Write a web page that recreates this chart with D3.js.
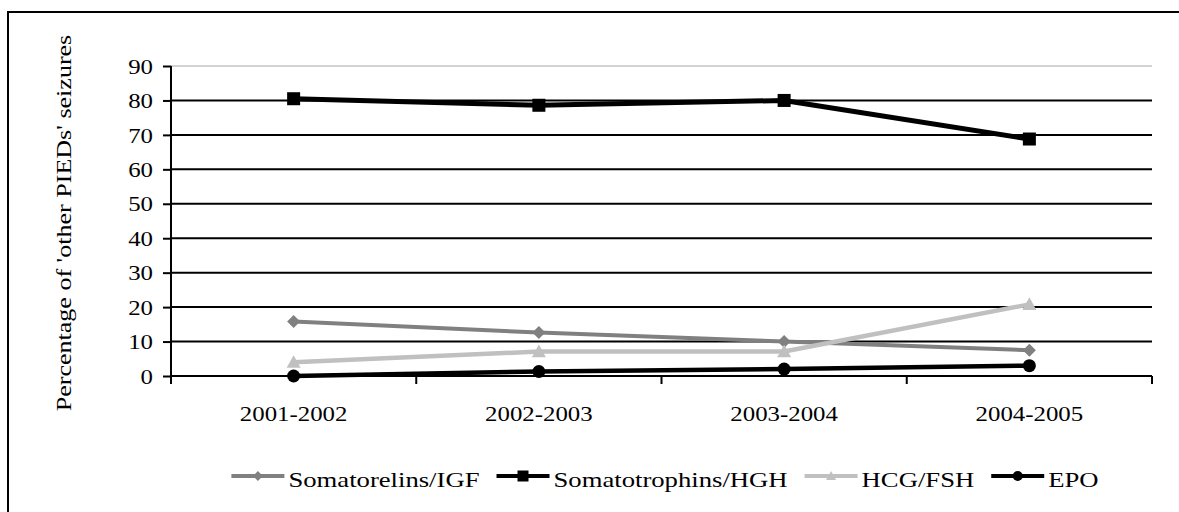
<!DOCTYPE html>
<html>
<head>
<meta charset="utf-8">
<script src="https://cdn.jsdelivr.net/npm/d3@7/dist/d3.min.js"></script>
<style>
  html, body { margin: 0; padding: 0; background: #fff; }
  svg { display: block; }
  text { font-family: "Liberation Serif", "Times New Roman", serif; fill: #000; }
</style>
</head>
<body>
<svg id="chart" width="1179" height="512"></svg>
<script>
// ---- data ----
const categories = ["2001-2002", "2002-2003", "2003-2004", "2004-2005"];
const seriesNames = ["Somatorelins/IGF", "Somatotrophins/HGH", "HCG/FSH", "EPO"];
const igfValues = [15.8, 12.6, 10.0, 7.5];
const hghValues = [80.5, 78.6, 80.0, 68.8];
const hcgValues = [4.0, 7.1, 7.1, 20.8];
const epoValues = [0.0, 1.3, 2.0, 3.0];
const yTicks = [0, 10, 20, 30, 40, 50, 60, 70, 80, 90];
const yTitle = "Percentage of 'other PIEDs' seizures";

// ---- styling ----
const styles = [
  { values: igfValues, color: "#808080", width: 4, marker: "diamond" },
  { values: hghValues, color: "#000000", width: 5, marker: "square" },
  { values: hcgValues, color: "#c0c0c0", width: 4.5, marker: "triangle" },
  { values: epoValues, color: "#000000", width: 4.5, marker: "circle" }
];

const svg = d3.select("#chart");
const pLeft = 171, pRight = 1152, pTop = 66, pBottom = 376;

const x = d3.scaleBand().domain(categories).range([pLeft, pRight]).paddingInner(0).paddingOuter(0);
const y = d3.scaleLinear().domain([0, 90]).range([pBottom, pTop]);

// outer frame
svg.append("rect").attr("x", 8).attr("y", 12).attr("width", 1200).attr("height", 520)
  .attr("fill", "none").attr("stroke", "#000").attr("stroke-width", 2);

// gridlines
svg.append("g").selectAll("line").data(yTicks.filter(d => d > 0)).join("line")
  .attr("x1", pLeft).attr("x2", pRight)
  .attr("y1", d => y(d)).attr("y2", d => y(d))
  .attr("stroke", d => d === 90 ? "#c4c4c4" : "#000")
  .attr("stroke-width", d => d === 90 ? 1.5 : 2);

// y axis
const yAxis = svg.append("g").attr("transform", `translate(${pLeft},0)`)
  .call(d3.axisLeft(y).tickValues(yTicks).tickSize(8).tickFormat(d3.format("d")));
yAxis.select(".domain").remove();
yAxis.selectAll(".tick line").attr("stroke", "#000").attr("stroke-width", 2);
yAxis.selectAll(".tick text").remove();
svg.append("line").attr("x1", pLeft).attr("x2", pLeft).attr("y1", pTop).attr("y2", pBottom + 8)
  .attr("stroke", "#000").attr("stroke-width", 2);

// y tick labels (horizontally widened serif)
svg.append("g").selectAll("text").data(yTicks).join("text")
  .attr("transform", d => `translate(153,${y(d)}) scale(1.13,1)`)
  .attr("text-anchor", "end").attr("dy", "0.35em")
  .style("font-size", "22px")
  .text(d => d);

// x axis
const xAxis = svg.append("g").attr("transform", `translate(0,${pBottom})`)
  .call(d3.axisBottom(x).tickSize(0).tickFormat(""));
xAxis.select(".domain").remove();
svg.append("line").attr("x1", pLeft).attr("x2", pRight).attr("y1", pBottom).attr("y2", pBottom)
  .attr("stroke", "#000").attr("stroke-width", 2);
const boundaries = categories.map(c => x(c)).concat([x(categories[categories.length - 1]) + x.bandwidth()]);
svg.append("g").selectAll("line").data(boundaries).join("line")
  .attr("x1", d => d).attr("x2", d => d).attr("y1", pBottom).attr("y2", pBottom + 8)
  .attr("stroke", "#000").attr("stroke-width", 2);
svg.append("g").selectAll("text").data(categories).join("text")
  .attr("transform", d => `translate(${x(d) + x.bandwidth() / 2},421) scale(1.13,1)`)
  .attr("text-anchor", "middle")
  .style("font-size", "22px")
  .text(d => d);

// y title
svg.append("text")
  .attr("transform", `translate(71,223) rotate(-90) scale(1.24,1)`)
  .attr("text-anchor", "middle")
  .style("font-size", "21px")
  .text(yTitle);

// markers
function drawMarker(g, type, cx, cy, color, s) {
  if (type === "square") {
    g.append("rect").attr("x", cx - s / 2).attr("y", cy - s / 2).attr("width", s).attr("height", s).attr("fill", color);
  } else if (type === "diamond") {
    const h = s / 2;
    g.append("path").attr("d", `M${cx},${cy - h}L${cx + h},${cy}L${cx},${cy + h}L${cx - h},${cy}Z`).attr("fill", color);
  } else if (type === "triangle") {
    const h = s / 2;
    g.append("path").attr("d", `M${cx},${cy - h}L${cx + h},${cy + h * 0.8}L${cx - h},${cy + h * 0.8}Z`).attr("fill", color);
  } else {
    g.append("circle").attr("cx", cx).attr("cy", cy).attr("r", s / 2).attr("fill", color);
  }
}
const markerSize = { square: 13, diamond: 13, triangle: 14, circle: 13 };

const line = d3.line().x((d, i) => x(categories[i]) + x.bandwidth() / 2).y(d => y(d));
styles.forEach(s => {
  const g = svg.append("g");
  g.append("path").datum(s.values).attr("d", line)
    .attr("fill", "none").attr("stroke", s.color).attr("stroke-width", s.width)
    .attr("stroke-linejoin", "round");
  s.values.forEach((v, i) => drawMarker(g, s.marker, x(categories[i]) + x.bandwidth() / 2, y(v), s.color, markerSize[s.marker]));
});

// legend
const legendY = 476, lineLen = 53, gapLine = 4, gapItem = 17, legScale = 1.27;
const leg = svg.append("g");
const items = seriesNames.map((name, i) => {
  const g = leg.append("g");
  g.append("line").attr("x1", 0).attr("x2", lineLen).attr("y1", 0).attr("y2", 0)
    .attr("stroke", styles[i].color).attr("stroke-width", 4);
  drawMarker(g, styles[i].marker, lineLen / 2, 0, styles[i].color, styles[i].marker === "square" ? 11 : 10);
  const t = g.append("text").attr("transform", `translate(${lineLen + gapLine},11) scale(${legScale},1)`)
    .style("font-size", "21px").text(name);
  const w = lineLen + gapLine + t.node().getComputedTextLength() * legScale;
  return { g, w };
});
const total = d3.sum(items, d => d.w) + gapItem * (items.length - 1);
let cx = 665 - total / 2;
items.forEach(it => { it.g.attr("transform", `translate(${cx},${legendY})`); cx += it.w + gapItem; });
</script>
</body>
</html>
